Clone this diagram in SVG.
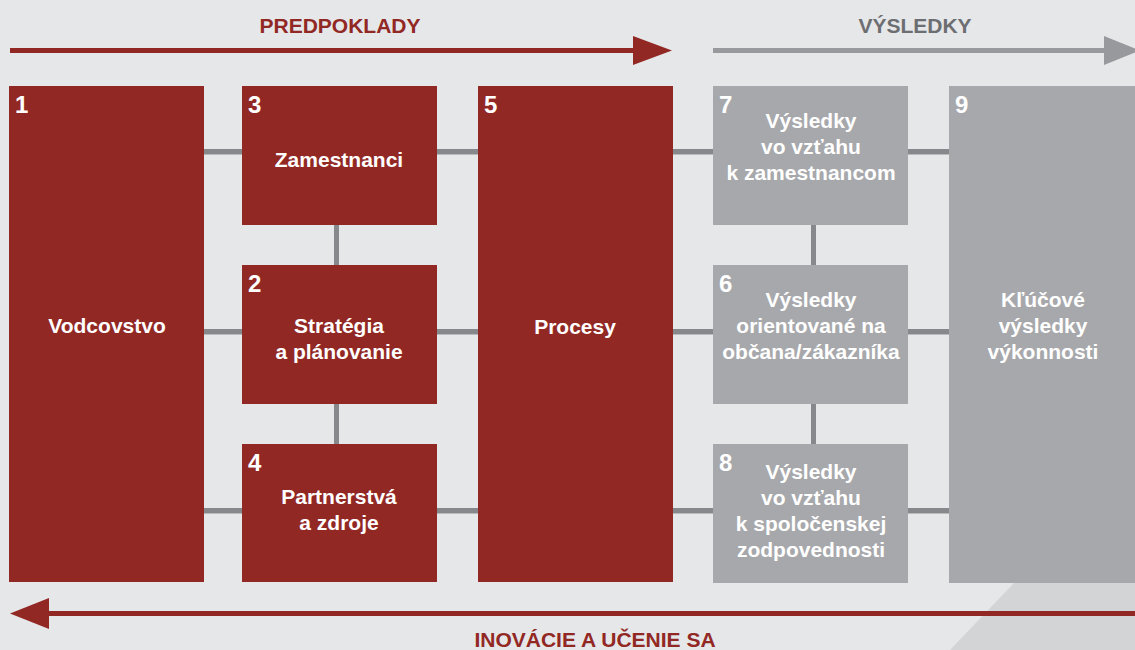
<svg xmlns="http://www.w3.org/2000/svg" width="1135" height="650" viewBox="0 0 1135 650">
  <defs>
    <style>
      .red { fill: #922824; }
      .gray { fill: #a7a8ab; }
      .num { font-family: "Liberation Sans", Arial, sans-serif; font-weight: bold; font-size: 24px; fill: #ffffff; }
      .lbl { font-family: "Liberation Sans", Arial, sans-serif; font-weight: bold; font-size: 21px; fill: #ffffff; text-anchor: middle; }
      .head { font-family: "Liberation Sans", Arial, sans-serif; font-weight: bold; font-size: 21px; text-anchor: middle; }
      .conn { stroke: #87888b; stroke-width: 5; fill: none; }
      .connlight { stroke: #b9babc; stroke-width: 1; fill: none; }
    </style>
  </defs>
  <rect x="0" y="0" width="1135" height="650" fill="#e6e7e9"/>
  <polygon points="1014,583 1135,583 1135,650 950,650" fill="#d3d4d6"/>

  <g id="headers">
    <text class="head" x="340" y="33" fill="#922824">PREDPOKLADY</text>
    <line x1="10" y1="50.5" x2="636" y2="50.5" stroke="#922824" stroke-width="5"/>
    <polygon points="633,36 672,50.5 633,65" fill="#922824"/>
    <text class="head" x="915" y="33" fill="#6d6e71">VÝSLEDKY</text>
    <line x1="713" y1="50.5" x2="1106" y2="50.5" stroke="#98999c" stroke-width="5"/>
    <polygon points="1104,36 1140,50.5 1104,65" fill="#98999c"/>
    <line x1="46" y1="613.5" x2="1135" y2="613.5" stroke="#922824" stroke-width="5"/>
    <polygon points="49,598 10,613.5 49,629" fill="#922824"/>
    <text class="head" x="595" y="647" fill="#922824">INOVÁCIE A UČENIE SA</text>
  </g>

  <g id="connectors">
    <line class="conn" x1="204" y1="151.5" x2="949" y2="151.5"/>
    <line class="conn" x1="204" y1="331.5" x2="949" y2="331.5"/>
    <line class="conn" x1="204" y1="510.5" x2="949" y2="510.5"/>
    <line class="connlight" x1="204" y1="154.5" x2="949" y2="154.5"/>
    <line class="connlight" x1="204" y1="334.5" x2="949" y2="334.5"/>
    <line class="connlight" x1="204" y1="513.5" x2="949" y2="513.5"/>
    <line class="conn" x1="336.5" y1="225" x2="336.5" y2="444"/>
    <line class="conn" x1="813.5" y1="225" x2="813.5" y2="444"/>
  </g>

  <g id="node1">
    <rect class="red" x="9" y="86" width="195" height="496"/>
    <text class="num" x="15" y="113">1</text>
    <text class="lbl" x="107" y="333">Vodcovstvo</text>
  </g>
  <g id="node3">
    <rect class="red" x="242" y="86" width="195" height="139"/>
    <text class="num" x="248" y="113">3</text>
    <text class="lbl" x="339" y="167">Zamestnanci</text>
  </g>
  <g id="node2">
    <rect class="red" x="242" y="265" width="195" height="139"/>
    <text class="num" x="248" y="292">2</text>
    <text class="lbl" x="339" y="333">Stratégia</text>
    <text class="lbl" x="339" y="359">a plánovanie</text>
  </g>
  <g id="node4">
    <rect class="red" x="242" y="444" width="195" height="138"/>
    <text class="num" x="248" y="471">4</text>
    <text class="lbl" x="339" y="504">Partnerstvá</text>
    <text class="lbl" x="339" y="530">a zdroje</text>
  </g>
  <g id="node5">
    <rect class="red" x="478" y="86" width="195" height="496"/>
    <text class="num" x="484" y="113">5</text>
    <text class="lbl" x="575" y="334">Procesy</text>
  </g>
  <g id="node7">
    <rect class="gray" x="713" y="86" width="195" height="139"/>
    <text class="num" x="719" y="113">7</text>
    <text class="lbl" x="811" y="128">Výsledky</text>
    <text class="lbl" x="811" y="154">vo vzťahu</text>
    <text class="lbl" x="811" y="180">k zamestnancom</text>
  </g>
  <g id="node6">
    <rect class="gray" x="713" y="265" width="195" height="139"/>
    <text class="num" x="719" y="292">6</text>
    <text class="lbl" x="811" y="307">Výsledky</text>
    <text class="lbl" x="811" y="333">orientované na</text>
    <text class="lbl" x="811" y="359">občana/zákazníka</text>
  </g>
  <g id="node8">
    <rect class="gray" x="713" y="444" width="195" height="139"/>
    <text class="num" x="719" y="471">8</text>
    <text class="lbl" x="811" y="479">Výsledky</text>
    <text class="lbl" x="811" y="505">vo vzťahu</text>
    <text class="lbl" x="811" y="531">k spoločenskej</text>
    <text class="lbl" x="811" y="557">zodpovednosti</text>
  </g>
  <g id="node9">
    <rect class="gray" x="949" y="86" width="186" height="497"/>
    <text class="num" x="955" y="113">9</text>
    <text class="lbl" x="1043" y="307">Kľúčové</text>
    <text class="lbl" x="1043" y="333">výsledky</text>
    <text class="lbl" x="1043" y="359">výkonnosti</text>
  </g>
</svg>
